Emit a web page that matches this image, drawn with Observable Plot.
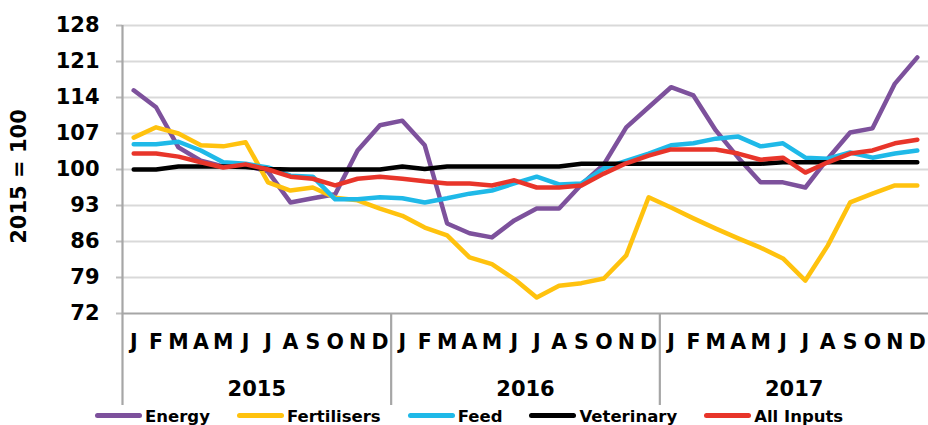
<!DOCTYPE html>
<html>
<head>
<meta charset="utf-8">
<script src="https://cdn.jsdelivr.net/npm/d3@7"></script>
<script src="https://cdn.jsdelivr.net/npm/@observablehq/plot@0.6"></script>
<style>
  html, body { margin: 0; padding: 0; background: #fff; overflow: hidden; }
  #chart svg { display: block; }
  #legend { display: flex; align-items: center; height: 20px; padding-left: 95px;
            font: bold 16.5px "DejaVu Sans", sans-serif; line-height: 19px; color: #000; white-space: nowrap; }
  .item { display: flex; align-items: center; margin-right: 27px; }
  .sw { display: inline-block; width: 47px; height: 5px; border-radius: 3px; margin-right: 3px; }
  .lab { position: relative; top: 1px; }
</style>
</head>
<body>
<div id="chart"></div>
<div id="legend"></div>
<script>
const months = ["J","F","M","A","M","J","J","A","S","O","N","D"];
const years = ["2015","2016","2017"];
const yTicks = [72, 79, 86, 93, 100, 107, 114, 121, 128];

const energy = [115.4,112.1,104.3,101.7,100.6,100.8,99.6,93.6,94.4,95.2,103.7,108.6,
                109.5,104.7,89.5,87.6,86.8,90.1,92.4,92.4,97.1,101.0,108.2,112.1,
                116.0,114.4,107.6,102.3,97.5,97.5,96.5,102.1,107.2,108.0,116.7,121.8];
const fertilisers = [106.2,108.2,107.0,104.7,104.5,105.3,97.5,95.9,96.5,94.5,94.0,92.4,
                     91.0,88.7,87.2,82.9,81.6,78.7,75.1,77.4,77.9,78.8,83.3,94.6,
                     92.6,90.5,88.5,86.6,84.8,82.7,78.4,85.2,93.6,95.3,96.9,96.9];
const feed = [104.9,104.9,105.4,103.7,101.4,101.1,100.4,98.8,98.6,94.2,94.2,94.6,
              94.4,93.6,94.4,95.3,95.9,97.3,98.6,97.1,97.3,100.2,101.7,103.1,
              104.7,105.1,106.0,106.4,104.5,105.1,102.3,102.1,103.3,102.3,103.1,103.7];
const veterinary = [100.0,100.0,100.6,100.6,100.6,100.5,100.1,100.0,100.0,100.0,100.0,100.0,
                    100.6,100.1,100.6,100.6,100.6,100.6,100.6,100.6,101.1,101.1,101.1,101.1,
                    101.1,101.1,101.1,101.1,101.1,101.4,101.4,101.4,101.4,101.4,101.4,101.4];
const allInputs = [103.1,103.1,102.5,101.4,100.4,101.0,100.0,98.6,98.2,96.9,98.2,98.6,
                   98.2,97.7,97.3,97.3,96.9,97.9,96.5,96.5,96.9,99.2,101.2,102.7,
                   103.9,103.9,103.9,103.1,101.9,102.3,99.4,101.4,103.1,103.7,105.1,105.8];

const seriesNames = ["Energy", "Fertilisers", "Feed", "Veterinary", "All Inputs"];
const seriesValues = [energy, fertilisers, feed, veterinary, allInputs];
const seriesColors = ["#7d519c", "#ffc20e", "#1fb9e8", "#000000", "#e8352a"];

const data = seriesNames.flatMap((name, s) =>
  seriesValues[s].map((v, i) => ({series: name, i, value: v})));

const W = 928, H = 405, mL = 122, mR = 0, mT = 25, mB = 92;
const frameH = H - mT - mB;
const font = "DejaVu Sans";
const axisGray = "#a6a6a6";

const monthIdx = d3.range(years.length * 12);
const yearCenters = years.map((y, k) => ({label: y, x: k * 12 + 5.5}));
const dividersMid = d3.range(1, years.length).map(k => k * 12 - 0.5);

const chart = Plot.plot({
  width: W, height: H,
  marginLeft: mL, marginRight: mR, marginTop: mT, marginBottom: mB,
  style: {fontFamily: font, fontWeight: "bold", color: "#000", background: "#fff"},
  x: {domain: [-0.5, years.length * 12 - 0.5]},
  y: {domain: [72, 128]},
  color: {domain: seriesNames, range: seriesColors},
  marks: [
    Plot.ruleY(yTicks.filter(t => t > 72), {y: d => d, stroke: "#d9d9d9", strokeWidth: 2.2}),
    Plot.axisY({ticks: yTicks, tickSize: 6, tickPadding: 17, stroke: "#bfbfbf", strokeWidth: 2,
                fontSize: 21, fontWeight: "bold", label: null}),
    Plot.axisX({ticks: monthIdx, tickFormat: d => months[d % 12], tickSize: 0, tickPadding: 21,
                fontSize: 20.5, fontWeight: "bold", label: null}),
    Plot.text(yearCenters, {x: "x", text: "label", frameAnchor: "bottom", dy: 76,
                fontSize: 21, fontWeight: "bold", lineAnchor: "middle"}),
    Plot.text(["2015 = 100"], {text: d => d, frameAnchor: "left", rotate: -90, dx: -103, dy: 7,
                fontSize: 21, fontWeight: "bold", lineAnchor: "middle", textAnchor: "middle"}),
    Plot.ruleY([72], {y: d => d, stroke: axisGray, strokeWidth: 2.2}),
    Plot.ruleX([-0.5], {x: d => d, stroke: axisGray, strokeWidth: 2.2, insetBottom: -mB}),
    Plot.ruleX(dividersMid, {x: d => d, stroke: axisGray, strokeWidth: 2.2, insetTop: frameH, insetBottom: -mB}),
    Plot.line(data, {x: "i", y: "value", z: "series", stroke: "series", strokeWidth: 4.5,
                     strokeLinejoin: "round", strokeLinecap: "round"})
  ]
});
document.getElementById("chart").append(chart);

const legend = document.getElementById("legend");
seriesNames.forEach((name, s) => {
  const item = document.createElement("div");
  item.className = "item";
  const sw = document.createElement("span");
  sw.className = "sw";
  sw.style.background = seriesColors[s];
  const lab = document.createElement("span");
  lab.className = "lab";
  lab.textContent = name;
  item.append(sw, lab);
  legend.append(item);
});
</script>
</body>
</html>
